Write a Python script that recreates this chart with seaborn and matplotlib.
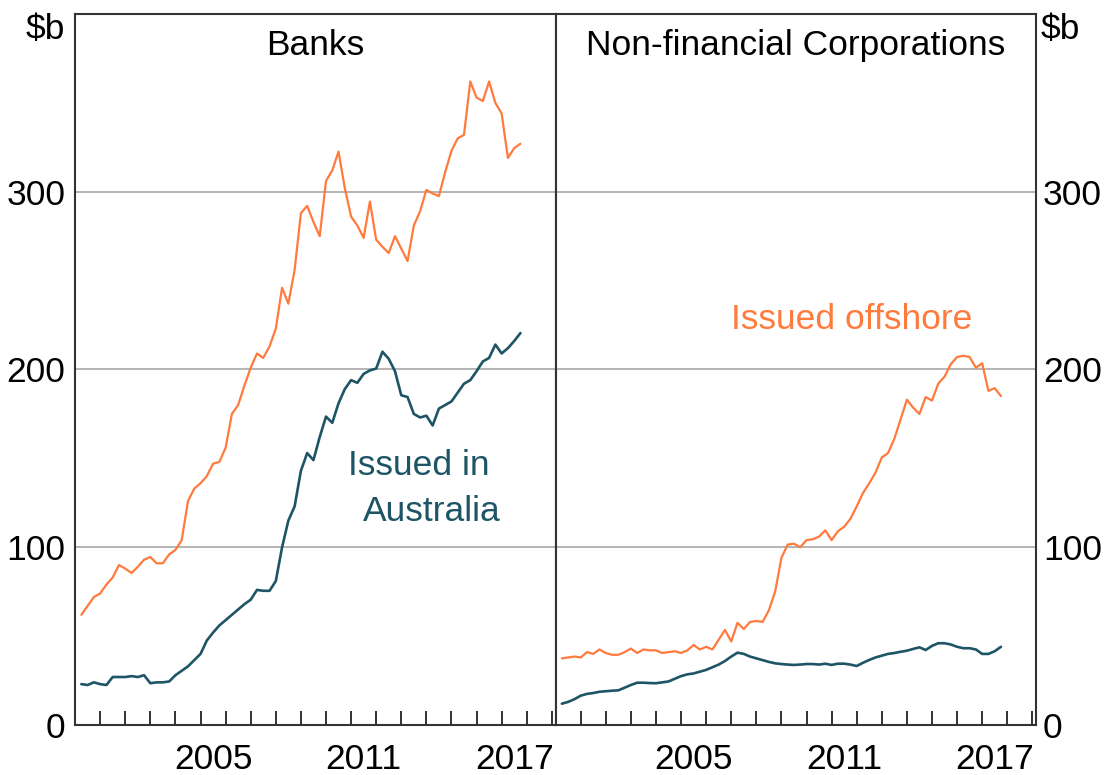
import numpy as np
import pandas as pd
import matplotlib
matplotlib.use("Agg")
import matplotlib.pyplot as plt
import seaborn as sns

# quarterly observations, 2000 Q1 .. 2017 Q3 (plotted at quarter ends)
quarters = np.arange(2000.25, 2017.76, 0.25)

banks_offshore = [
    62, 67, 72,
    74, 79, 83, 90,
    88, 85.5, 89, 93,
    94.5, 91, 91, 96,
    98.5, 104, 126, 133,
    136, 140, 147, 148,
    156, 175, 180, 191,
    201, 209, 206.5, 213,
    223, 246, 237, 256,
    288, 292, 283, 275,
    306, 312, 322.6, 302,
    286, 281, 274, 294.5,
    273, 269, 265.5, 275,
    268, 261, 281, 289,
    301, 299, 297.5, 311,
    323, 330, 332, 362,
    353, 351, 362, 350,
    344, 319, 324.5, 327,
]
banks_australia = [
    23, 22.5, 24,
    23, 22.5, 27, 27,
    27, 27.5, 27, 28,
    23.5, 24, 24, 24.5,
    28, 30.5, 33, 36.5,
    40, 47.5, 52, 56,
    59, 62, 65, 68,
    70.5, 76, 75.5, 75.5,
    81, 100, 115, 123,
    143, 153, 149, 162,
    173.5, 170, 181, 189,
    194, 192.5, 197.5, 199.5,
    200.5, 210, 206, 199,
    185.5, 184.5, 175, 173,
    174, 168.5, 178, 180,
    182, 187, 192, 194,
    199, 204.5, 206.5, 214,
    209, 212, 216, 220.5,
]
nfc_offshore = [
    37.5, 38, 38.5,
    38, 41, 40, 42.5,
    40.5, 39.5, 39.5, 41,
    43, 40.5, 42.5, 42,
    42, 40.5, 41, 41.5,
    40.5, 42, 45, 42.5,
    44, 42.5, 48, 53.5,
    47, 57.5, 54, 58,
    58.5, 58, 64.5, 75,
    94, 101.5, 102, 100,
    104, 104.5, 106, 109.5,
    104, 109, 111.5, 116,
    123, 130.5, 136, 142,
    150.5, 153, 161, 172,
    183, 178.5, 175, 184.5,
    182.5, 192, 196, 203,
    207, 207.7, 207, 201,
    203.5, 188, 189.5, 185,
]
nfc_australia = [
    12, 13, 14.5,
    16.5, 17.5, 18, 18.7,
    19, 19.3, 19.5, 21,
    22.5, 23.8, 23.8, 23.6,
    23.5, 24, 24.5, 26,
    27.5, 28.5, 29, 30,
    31, 32.5, 34, 36,
    38.5, 40.7, 40, 38.5,
    37.5, 36.5, 35.5, 34.7,
    34.3, 34, 33.8, 34,
    34.3, 34.3, 34, 34.5,
    33.8, 34.5, 34.5, 34,
    33.2, 35, 36.6, 38,
    39, 40, 40.5, 41.2,
    41.8, 42.8, 43.7, 42.2,
    44.5, 46, 46, 45.3,
    44, 43.2, 43.2, 42.5,
    40, 40, 41.5, 44,
]

panel_titles = ["Banks", "Non-financial Corporations"]
year_ticks = list(range(2001, 2020))
year_labels = ["2005", "2011", "2017"]
y_ticks = [0, 100, 200, 300]

ORANGE = "#FF7A3D"
TEAL = "#1E5566"

sns.set_theme(style="white")
plt.rcParams["font.family"] = ["Liberation Sans", "DejaVu Sans"]

banks = pd.DataFrame({"date": quarters, "offshore": banks_offshore,
                      "australia": banks_australia})
nfc = pd.DataFrame({"date": quarters, "offshore": nfc_offshore,
                    "australia": nfc_australia})

fig, axes = plt.subplots(1, 2, figsize=(11.04, 7.75), dpi=100, sharey=True)
fig.subplots_adjust(left=0.068, right=0.9385, top=0.982, bottom=0.0645,
                    wspace=0)

for ax, df, title in zip(axes, [banks, nfc], panel_titles):
    sns.lineplot(data=df, x="date", y="offshore", ax=ax, color=ORANGE,
                 linewidth=1.6)
    sns.lineplot(data=df, x="date", y="australia", ax=ax, color=TEAL,
                 linewidth=1.9)
    ax.set_xlim(2000, 2019.15)
    ax.set_ylim(0, 400)
    ax.set_xlabel("")
    ax.set_ylabel("")
    ax.set_yticks(y_ticks)
    for v in y_ticks[1:]:
        ax.axhline(v, color="#B4B4B4", linewidth=1.4, zorder=0)

    # year boundaries as ticks, labels centred on the year
    ax.set_xticks(year_ticks)
    ax.set_xticklabels([])
    ax.set_xticks([int(y) + 0.5 for y in year_labels], minor=True)
    ax.set_xticklabels(year_labels, minor=True)
    ax.tick_params(axis="x", which="major", direction="in", length=10,
                   width=1.3, color="#222222", bottom=True)
    ax.tick_params(axis="x", which="minor", length=0, pad=13, labelsize=25.5,
                   labelcolor="black", bottom=True)
    for s in ax.spines.values():
        s.set_visible(True)
        s.set_color("#333333")
        s.set_linewidth(1.5)
    ax.text(0.5, 0.955, title, transform=ax.transAxes, ha="center",
            va="center", fontsize=25.5, color="black")

axes[0].tick_params(axis="y", length=0, pad=7, labelsize=25.5,
                    labelcolor="black", left=True, right=False)
axes[1].tick_params(axis="y", length=0, pad=5, labelsize=25.5,
                    labelcolor="black", left=False, right=True,
                    labelleft=False, labelright=True)

# unit labels
axes[0].text(-0.02, 0.978, "$b", transform=axes[0].transAxes, ha="right",
             va="center", fontsize=25.5, color="black")
axes[1].text(1.01, 0.978, "$b", transform=axes[1].transAxes, ha="left",
             va="center", fontsize=25.5, color="black")

# series annotations
axes[0].text(2013.7, 146, "Issued in", ha="center", va="center",
             fontsize=25.5, color=TEAL)
axes[0].text(2014.2, 120, "Australia", ha="center", va="center",
             fontsize=25.5, color=TEAL)
axes[1].text(2011.8, 228, "Issued offshore", ha="center", va="center",
             fontsize=25.5, color=ORANGE)

fig.savefig("out.png", dpi=100, facecolor="white")
